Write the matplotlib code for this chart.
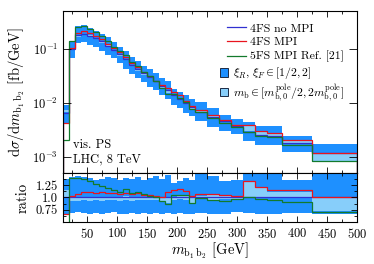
import numpy as np
import matplotlib.pyplot as plt
from matplotlib.ticker import MultipleLocator, FixedLocator, NullLocator
from matplotlib.lines import Line2D
from matplotlib.patches import Patch

plt.rcParams.update({
    "font.family": "serif",
    "font.serif": ["cmr10"],
    "mathtext.fontset": "cm",
    "axes.formatter.use_mathtext": True,
    "font.size": 9,
    "axes.unicode_minus": False,
})

# bin edges in GeV
edges = [10, 20, 30, 40, 50, 60, 70, 80, 90, 100, 110, 120, 130, 140, 150, 160,
         170, 180, 190, 200, 210, 220, 230, 250, 270, 290, 310, 330, 350, 375,
         425, 500]

# dsigma/dm [fb/GeV]
no_mpi = [6.5e-3, 0.100, 0.180, 0.190, 0.175, 0.158, 0.137, 0.114, 0.096, 0.080,
          0.064, 0.051, 0.042, 0.035, 0.030, 0.025, 0.0205, 0.017, 0.014, 0.0118,
          0.0098, 0.0085, 6.8e-3, 5.5e-3, 4.5e-3, 3.7e-3, 2.9e-3, 2.5e-3, 2.45e-3,
          1.8e-3, 1.17e-3]
mpi = [4.3e-3, 0.103, 0.194, 0.213, 0.194, 0.174, 0.151, 0.125, 0.105, 0.0864,
       0.0704, 0.0551, 0.0462, 0.0371, 0.0315, 0.0258, 0.0209, 0.0190, 0.0160,
       0.0138, 0.0110, 0.0087, 7.3e-3, 5.9e-3, 4.7e-3, 3.85e-3, 3.9e-3, 3.05e-3,
       2.8e-3, 2.07e-3, 1.17e-3]
fs5_mpi = [2.0e-3, 0.139, 0.252, 0.262, 0.233, 0.202, 0.170, 0.137, 0.110, 0.0896,
           0.0755, 0.0561, 0.0470, 0.0375, 0.0312, 0.0250, 0.0189, 0.0148, 0.0147,
           0.0124, 0.0103, 0.0075, 6.7e-3, 5.2e-3, 4.2e-3, 3.6e-3, 2.9e-3, 2.43e-3,
           2.3e-3, 1.62e-3, 8.2e-4]

# uncertainty bands, relative to 4FS no MPI
scale_hi = [1.37, 1.42, 1.44, 1.42, 1.40, 1.36, 1.38, 1.42, 1.40, 1.36, 1.40, 1.38,
            1.42, 1.36, 1.40, 1.44, 1.38, 1.46, 1.30, 1.34, 1.40, 1.36, 1.50, 1.44,
            1.34, 1.36, 1.50, 1.50, 1.50, 1.36, 1.50]
scale_lo = [0.64, 0.68, 0.70, 0.69, 0.67, 0.68, 0.66, 0.68, 0.70, 0.67, 0.66, 0.68,
            0.67, 0.69, 0.66, 0.68, 0.67, 0.69, 0.66, 0.68, 0.67, 0.66, 0.68, 0.66,
            0.67, 0.70, 0.68, 0.66, 0.67, 0.68, 0.67]
mb_hi = [1.15, 1.00, 0.98, 1.00, 1.02, 1.00, 1.00, 1.02, 1.00, 1.00, 1.03, 1.00,
         1.02, 1.00, 1.00, 1.02, 1.00, 1.00, 1.02, 1.04, 1.06, 1.00, 1.04, 1.06,
         1.03, 1.03, 1.32, 1.20, 1.12, 1.12, 0.98]
mb_lo = [1.02, 0.93, 0.92, 0.94, 0.93, 0.95, 0.93, 0.94, 0.95, 0.93, 0.95, 0.93,
         0.94, 0.95, 0.94, 0.95, 0.90, 0.88, 0.95, 0.96, 0.95, 0.88, 0.96, 0.95,
         0.96, 0.97, 1.02, 1.00, 1.00, 0.98, 0.72]

C_DARK = "#1e90ff"
C_LIGHT = "#87cefa"
C_BLUE = "#3030d0"
C_RED = "#e8141e"
C_GREEN = "#137a2c"

ref = np.array(no_mpi)
series = [
    (np.array(no_mpi), C_BLUE, "4FS no MPI"),
    (np.array(mpi), C_RED, "4FS MPI"),
    (np.array(fs5_mpi), C_GREEN, "5FS MPI Ref. [21]"),
]

fig = plt.figure(figsize=(3.74, 2.64), dpi=100)
ax = fig.add_axes([0.1684, 0.3447, 0.7853, 0.6136])
rax = fig.add_axes([0.1684, 0.1591, 0.7853, 0.1856], sharex=ax)

# main panel gets absolute values, ratio panel divides by 4FS no MPI
for a, norm in ((ax, np.ones_like(ref)), (rax, ref)):
    a.stairs(ref * np.array(scale_hi) / norm, edges,
             baseline=ref * np.array(scale_lo) / norm, fill=True, color=C_DARK, lw=0)
    a.stairs(ref * np.array(mb_hi) / norm, edges,
             baseline=ref * np.array(mb_lo) / norm, fill=True, color=C_LIGHT, lw=0)

for vals, col, lab in series:
    ax.stairs(vals, edges, baseline=1e-9, color=col, lw=0.9)
    rax.stairs(vals / ref, edges, baseline=None, color=col, lw=0.9)

ax.set_yscale("log")
ax.set_ylim(5e-4, 0.5)
ax.set_xlim(10, 500)
rax.set_ylim(0.5, 1.5)

for a in (ax, rax):
    a.tick_params(which="both", direction="in", top=True, right=True, labelsize=9)
    a.tick_params(which="major", length=4, width=0.6)
    a.tick_params(which="minor", length=2.2, width=0.6)
    a.xaxis.set_major_locator(MultipleLocator(50))
    a.xaxis.set_minor_locator(MultipleLocator(25))
    for sp in a.spines.values():
        sp.set_linewidth(0.8)

ax.yaxis.set_major_locator(FixedLocator([1e-3, 1e-2, 1e-1]))
ax.yaxis.set_minor_locator(NullLocator())
ax.tick_params(axis="y", which="major", length=6)
ax.tick_params(labelbottom=False)
rax.yaxis.set_major_locator(FixedLocator([0.75, 1.0, 1.25]))
rax.yaxis.set_minor_locator(FixedLocator([0.625, 0.875, 1.125, 1.375]))
rax.set_yticklabels(["0.75", "1.0", "1.25"])

ax.set_ylabel(r"$\mathrm{d}\sigma/\mathrm{d}m_{\mathrm{b}_1\,\mathrm{b}_2}$ [fb/GeV]", fontsize=10.5)
ax.yaxis.set_label_coords(-0.122, 0.5)
rax.set_ylabel("ratio", fontsize=10.5)
rax.yaxis.set_label_coords(-0.112, 0.5)
rax.set_xlabel(r"$m_{\mathrm{b}_1\,\mathrm{b}_2}$ [GeV]", fontsize=10.5)
rax.xaxis.set_label_coords(0.5, -0.38)

ax.text(0.034, 0.173, "vis. PS", transform=ax.transAxes, va="center", fontsize=9)
ax.text(0.034, 0.085, "LHC, 8 TeV", transform=ax.transAxes, va="center", fontsize=9)

line_handles = [Line2D([], [], color=c, lw=0.9) for _, c, _ in series]
leg1 = ax.legend(line_handles, [l for _, _, l in series], loc="upper right",
                 bbox_to_anchor=(0.985, 0.975), frameon=False, fontsize=8.5,
                 handlelength=1.6, handletextpad=0.35, labelspacing=0.3,
                 borderaxespad=0.3)
ax.add_artist(leg1)
patch_handles = [Patch(facecolor=C_DARK, edgecolor="#1a2a44", lw=0.7),
                 Patch(facecolor=C_LIGHT, edgecolor="#1a2a44", lw=0.7)]
ax.legend(patch_handles,
          [r"$\xi_R,\,\xi_F \in [1/2,2]$",
           r"$m_{\mathrm{b}} \in [m_{\mathrm{b},0}^{\mathrm{pole}}/2, 2m_{\mathrm{b},0}^{\mathrm{pole}}]$"],
          loc="upper right", bbox_to_anchor=(0.985, 0.715), frameon=False, fontsize=8.5,
          handlelength=0.75, handleheight=0.75, handletextpad=0.4, labelspacing=0.05,
          borderaxespad=0.3)

fig.savefig("out.png", dpi=100)
